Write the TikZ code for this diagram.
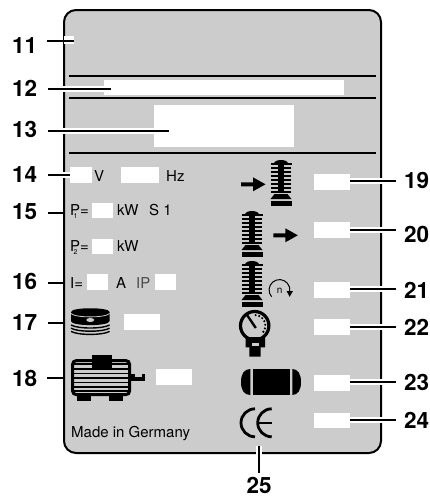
\documentclass[tikz,border=0pt]{standalone}
\usepackage{fontspec}
\setmainfont{TeX Gyre Heros}
\usepackage{xcolor}
\usetikzlibrary{positioning}
\definecolor{plategray}{HTML}{CCCCCC}

\begin{document}
\begin{tikzpicture}[
  x=1pt, y=-1pt,
  num/.style={anchor=base west, inner sep=0pt, font=\fontsize{22.5}{23}\selectfont\bfseries},
  lab/.style={anchor=base west, inner sep=0pt, font=\fontsize{15}{16}\selectfont},
  slot/.style={fill=white, inner sep=0pt, minimum width=36pt, minimum height=15.7pt},
  small/.style={slot, minimum width=21.5pt},
  lead/.style={line width=2.2pt},
  halo/.style={preaction={draw=white, line width=6.5pt}},
  rule/.style={line width=2pt},
  pics/pumpicon/.style={code={
    \fill (-7,3.5) arc (180:360:7 and 3.5) -- cycle;
    \fill (-10.5,3) rectangle (10.5,5);
    \fill (-3,3) rectangle (3,33);
    \foreach \fy in {7,11,15,19,23,27,31}
      \fill (-10,\fy) rectangle (10,\fy+2);
    \fill (-6.5,34) -- (6.5,34) -- (10.5,39) -- (-10.5,39) -- cycle;
    \fill (-10.5,41) rectangle (10.5,46);
  }},
  pics/flowarrow/.style={code={
    \fill (0,-2) -- (12,-2) -- (12,-7) -- (24.5,0) -- (12,7) -- (12,2) -- (0,2) -- cycle;
  }}
]
\useasboundingbox (0,0) rectangle (430,496);
% plate
\draw[fill=plategray, line width=2pt, rounded corners=12pt] (64,10) rectangle (381,453);
\draw[rule] (69,76) -- (376,76);
\draw[rule] (69,98) -- (376,98);
\draw[rule] (69,153) -- (376,153);

% left side slots
\node[slot, minimum width=10pt, minimum height=8.5pt] (b11) at (68.5,40.2) {};
\node[slot, minimum width=240pt] (b12) at (224,87.5) {};
\node[slot, minimum width=140pt, minimum height=42.5pt] (b13) at (224,126.2) {};
\node[small] (b14) at (81,175) {};
\node[slot, minimum width=38pt] (b14h) at (140,175) {};
\node[small] (b15) at (102.7,210.5) {};
\node[small] (b15b) at (102.7,246.5) {};
\node[small] (b16) at (97.7,282) {};
\node[small] (b16b) at (165.7,282) {};
\node[slot] (b17) at (142.2,321.8) {};
\node[slot] (b18) at (173.6,376.8) {};

% right side slots
\node[slot] (b19) at (332,182.2) {};
\node[slot] (b20) at (332,229.8) {};
\node[slot] (b21) at (332,290.2) {};
\node[slot] (b22) at (332,327.2) {};
\node[slot] (b23) at (332,382.8) {};
\node[slot] (b24) at (332,420.5) {};

% texts on the plate
\node[lab] (tv) at (94,181) {V};
\node[lab] (thz) at (166,181) {Hz};
\node[lab] (tp1) at (70,215) {P\kern-6.5pt\raisebox{-3.5pt}{\fontsize{7}{7}\selectfont 1}\kern2.5pt=};
\node[lab] (tkw1) at (117,215) {kW};
\node[lab] (ts1) at (149,215) {S 1};
\node[lab] (tp2) at (70,251) {P\kern-6.5pt\raisebox{-3.5pt}{\fontsize{7}{7}\selectfont 2}\kern2.5pt=};
\node[lab] (tkw2) at (117,251) {kW};
\node[lab] (ti) at (70,288) {I=};
\node[lab] (ta) at (116,288) {A};
\node[lab, text=black!70] (tip) at (136,288) {IP};
\node[lab] (tmade) at (71,437) {Made in Germany};

% numbers
\node[num] (n11) at (12,53.3) {11};
\node[num] (n12) at (12,96) {12};
\node[num] (n13) at (12,137.7) {13};
\node[num] (n14) at (12,182.3) {14};
\node[num] (n15) at (12,219.3) {15};
\node[num] (n16) at (12,289.3) {16};
\node[num] (n17) at (12,330) {17};
\node[num] (n18) at (12,386.7) {18};
\node[num] (n19) at (404,188.3) {19};
\node[num] (n20) at (404,242.7) {20};
\node[num] (n21) at (404,298.3) {21};
\node[num] (n22) at (404,335) {22};
\node[num] (n23) at (404,390.7) {23};
\node[num] (n24) at (404,428.3) {24};
\node[num] (n25) at (246.5,493) {25};

% leaders, left
\coordinate (c11) at (47,41);
\coordinate (c12) at (48,89);
\coordinate (e12) at (111,89);
\coordinate (c13) at (48,131);
\coordinate (e13) at (169,131);
\coordinate (c14) at (48,175);
\coordinate (c15) at (48,213);
\coordinate (c16) at (48,283);
\coordinate (c17) at (48,323);
\coordinate (c18) at (47,378);
\draw[lead] (c11) -- (b11.east |- c11);
\draw[lead, halo] (c12) -- (e12);
\draw[lead, halo] (c13) -- (e13);
\draw[lead, halo] (c14) -- (b14.west |- c14);
\draw[lead] (c15) -- (65,213);
\draw[lead] (c16) -- (65,283);
\draw[lead] (c17) -- (65,323);
\draw[lead] (c18) -- (64,378);

% leaders, right
\coordinate (c19) at (396,181);
\coordinate (c20) at (396,230);
\coordinate (c21) at (396,289);
\coordinate (c22) at (396,327);
\coordinate (c23) at (396,382);
\coordinate (c24) at (396,420);
\coordinate (c25) at (259,472.7);
\coordinate (e25) at (259,446);
\draw[lead, halo] (b19.east |- c19) -- (c19);
\draw[lead, halo] (b20.east |- c20) -- (c20);
\draw[lead, halo] (b21.east |- c21) -- (c21);
\draw[lead, halo] (b22.east |- c22) -- (c22);
\draw[lead, halo] (b23.east |- c23) -- (c23);
\draw[lead, halo] (b24.east |- c24) -- (c24);
\draw[lead, halo] (e25) -- (c25);

% pumps and arrows
\pic at (281,160) {pumpicon};
\pic at (252,211) {pumpicon};
\pic at (252,261) {pumpicon};
\pic at (241,184.3) {flowarrow};
\pic at (273.3,235.3) {flowarrow};

% speed symbol
\draw[line width=1pt] (271.65,296.8) arc (139:368:10.4);
\fill (286.6,291) -- (293,291) -- (289.6,296.8) -- cycle;
\node[inner sep=0pt, font=\fontsize{10}{10}\selectfont] (tn) at (279.7,291) {n};

% pressure gauge
\draw[line width=3.2pt] (254.7,325.7) circle[radius=14.2];
\foreach \ga in {-85,-65,-45,-25,-5,15,35}
  \fill (254.7,325.7) ++(\ga:10.6) circle[radius=1.2];
\draw[line width=2.4pt] (246,313.5) -- (255.8,328);
\fill (245.7,337) -- (265,337) -- (265,347.3) -- (260.7,347.3) -- (260.7,356.7) -- (249.3,356.7) -- (249.3,347.3) -- (245.7,347.3) -- cycle;
\fill[plategray] (251.7,342.7) rectangle (258.5,346);

% receiver
\fill (253.3,369) rectangle (290,395);
\fill (250.3,369) .. controls (244,369) and (241,374) .. (241,382) .. controls (241,390) and (244,395) .. (250.3,395) -- cycle;
\fill (292.3,369) .. controls (298,369) and (301,374) .. (301,382) .. controls (301,390) and (298,395) .. (292.3,395) -- cycle;

% CE mark
\draw[line width=2.8pt] (255,436.8) arc (90:270:14);
\draw[line width=2.8pt] (271.7,436.8) arc (90:270:14);
\draw[line width=2.4pt] (259,422.8) -- (271.7,422.8);

% flywheel stack
\fill (71,312) .. controls (71,307) and (109.6,307) .. (109.6,312) -- (109.6,321) .. controls (109.6,326.5) and (71,326.5) .. (71,321) -- cycle;
\draw[plategray, line width=.8pt] (71,313.5) .. controls (75,318) and (105.6,318) .. (109.6,313.5);
\fill[plategray] (90.3,320) ellipse[x radius=4, y radius=2];
\foreach \sy in {325,328.2,331.4}
  \draw[line width=1.4pt] (71,\sy) .. controls (78,\sy+4) and (102.6,\sy+4) .. (109.6,\sy);

% motor
\draw[line width=3pt, rounded corners=4pt] (72.5,360.5) rectangle (129.7,394.7);
\foreach \my in {364,369,373.5,378,382.5,387,391}
  \draw[line width=1.5pt] (72.5,\my) -- (129.7,\my);
\fill (91.7,355.3) rectangle (111.7,367.7);
\fill (76.7,395) rectangle (90.7,400.7);
\fill (109.3,395) rectangle (123.3,400.7);
\fill (131,374) rectangle (145,380.7);
\fill[plategray] (135,373.3) rectangle (141.7,377);
\end{tikzpicture}
\end{document}
